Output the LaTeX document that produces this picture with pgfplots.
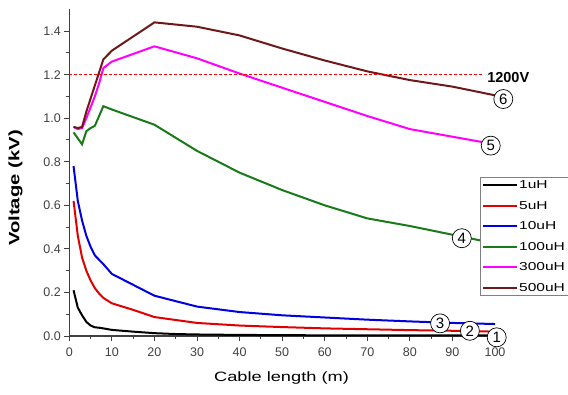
\documentclass[border=0pt]{standalone}
\usepackage{pgfplots}
\pgfplotsset{compat=1.18}
\usepackage{fontspec}
\setmainfont{Liberation Sans}
\newfontfamily\widefont[FakeStretch=1.35]{Liberation Sans}
\definecolor{cblack}{HTML}{000000}
\definecolor{cred}{HTML}{E00000}
\definecolor{cblue}{HTML}{0000E0}
\definecolor{cgreen}{HTML}{187A18}
\definecolor{cmag}{HTML}{FF00FF}
\definecolor{cbrown}{HTML}{701818}
\definecolor{axgray}{HTML}{404040}
\begin{document}
\begin{tikzpicture}
\useasboundingbox (0pt,0pt) rectangle (568pt,394pt);
\begin{axis}[
  at={(69.3pt,58pt)}, anchor=south west,
  scale only axis, width=425.7pt, height=326.7pt,
  xmin=0, xmax=100, ymin=0, ymax=1.5,
  axis lines*=left, axis line style={-, axgray, line width=1.2pt},
  clip=false,
  xtick={0,10,...,100}, ytick={0,0.2,...,1.4},
  minor x tick num=1, minor y tick num=1,
  tick align=outside, major tick length=5pt, minor tick length=3pt,
  tick style={axgray, line width=1pt},
  /pgf/number format/assume math mode=true,
  yticklabel style={/pgf/number format/.cd, fixed, fixed zerofill, precision=1},
  tick label style={font=\fontsize{12.5}{14}\selectfont, text=axgray},
  xticklabel style={yshift=-3pt},
  xlabel={\widefont\fontsize{13.5}{15}\selectfont Cable length (m)},
  ylabel={\widefont\bfseries\fontsize{15}{17}\selectfont Voltage (kV)},
  xlabel style={at={(axis description cs:0.4985,-0.128)}, anchor=center},
  ylabel style={at={(axis description cs:-0.1264,0.453)}, anchor=center},
  legend style={at={(axis description cs:0.9648,0.4867)}, anchor=north west,
    draw=gray, line width=0.8pt, fill=white, inner sep=2pt,
    font=\widefont\fontsize{11.5}{13}\selectfont, row sep=8.5pt,
    nodes={inner sep=1pt, text height=8.5pt, text depth=1.5pt}},
  legend cell align=left,
  legend image code/.code={\draw[#1, line width=1.8pt] (0pt,0pt) -- (34pt,0pt);},
  every axis plot/.append style={line width=2pt},
]
\addplot[cblack] coordinates {(1,0.21)(2,0.13)(3,0.095)(4,0.065)(5,0.048)(6,0.04)(7,0.038)(8,0.035)(10,0.028)(15,0.02)(20,0.013)(25,0.009)(30,0.007)(40,0.005)(50,0.004)(60,0.003)(70,0.003)(80,0.003)(90,0.003)(100,0.003)};
\addlegendentry{1uH}
\addplot[cred] coordinates {(1,0.62)(2,0.46)(3,0.36)(4,0.30)(5,0.255)(6,0.22)(7,0.195)(8,0.175)(10,0.15)(15,0.12)(20,0.087)(30,0.06)(40,0.048)(50,0.041)(60,0.035)(70,0.031)(80,0.027)(90,0.024)(100,0.02)};
\addlegendentry{5uH}
\addplot[cblue] coordinates {(1,0.78)(2,0.62)(3,0.53)(4,0.46)(5,0.41)(6,0.37)(8,0.33)(10,0.285)(15,0.235)(20,0.185)(30,0.135)(40,0.11)(50,0.095)(60,0.085)(70,0.075)(80,0.067)(90,0.06)(100,0.055)};
\addlegendentry{10uH}
\addplot[cgreen] coordinates {(1,0.935)(3,0.88)(4,0.94)(5,0.955)(6,0.965)(8,1.055)(10,1.04)(20,0.97)(30,0.85)(40,0.75)(50,0.67)(60,0.60)(70,0.54)(80,0.505)(90,0.465)(100,0.425)};
\addlegendentry{100uH}
\addplot[cmag] coordinates {(1,0.96)(2,0.95)(3,0.955)(4,1.0)(5,1.05)(6,1.1)(7,1.16)(8,1.23)(10,1.26)(20,1.33)(30,1.275)(40,1.205)(50,1.14)(60,1.075)(70,1.01)(80,0.95)(90,0.915)(100,0.88)};
\addlegendentry{300uH}
\addplot[cbrown] coordinates {(1,0.96)(2,0.955)(3,0.96)(4,1.03)(5,1.09)(6,1.15)(7,1.21)(8,1.27)(10,1.31)(20,1.44)(30,1.42)(40,1.38)(50,1.32)(60,1.265)(70,1.215)(80,1.175)(90,1.145)(100,1.105)};
\addlegendentry{500uH}
\addplot[red, line width=1pt, dash pattern=on 3pt off 2pt, forget plot] coordinates {(0,1.2)(97,1.2)};
\node[anchor=west, font=\bfseries\fontsize{14.5}{15}\selectfont, inner sep=1pt] at (axis cs:97.9,1.187) {1200V};
\begin{scope}[every node/.style={circle, draw, line width=0.7pt, fill=white, inner sep=0pt, minimum size=19pt, font=\fontsize{15}{15}\selectfont}]
\node at (axis cs:101.95,1.088) {6};
\node at (axis cs:99.0,0.874) {5};
\node at (axis cs:92.2,0.449) {4};
\node at (axis cs:87.1,0.058) {3};
\node at (axis cs:94.1,0.024) {2};
\node at (axis cs:100.4,-0.006) {1};
\end{scope}
\end{axis}
\end{tikzpicture}
\end{document}
